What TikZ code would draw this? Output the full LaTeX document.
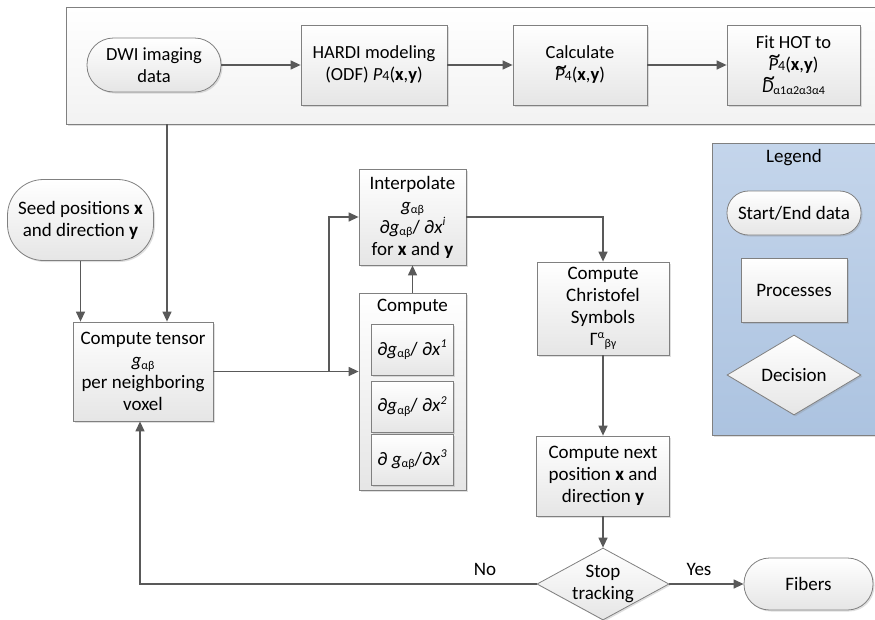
\documentclass[tikz,border=0pt]{standalone}
\usepackage{fontspec}
\setmainfont{Carlito}
\usetikzlibrary{shapes.geometric,arrows.meta,shadows}
\definecolor{ln}{RGB}{89,89,89}
\definecolor{bd}{RGB}{128,128,128}
\definecolor{legA}{RGB}{196,213,235}
\definecolor{legB}{RGB}{172,195,224}
\newcommand\lo[1]{\raisebox{-0.3ex}{\fontsize{12}{12}\selectfont #1}}
\newcommand\hi[1]{\raisebox{0.8ex}{\fontsize{12}{12}\selectfont #1}}
\newcommand\sm[1]{{\fontsize{14}{14}\selectfont #1}}
\newcommand\tld[1]{{\setbox0\hbox{#1}\ooalign{\box0\cr\hidewidth\kern0.14em\raisebox{0.36em}{\scalebox{1.3}[1.3]{\upshape\textasciitilde}}\hidewidth\cr}}}
\begin{document}
\begin{tikzpicture}[x=1pt,y=-1pt,
  shd/.style={drop shadow={shadow xshift=1.5pt,shadow yshift=-1.5pt,opacity=0.25}},
  base/.style={draw=bd, line width=0.8pt, top color=white, bottom color=black!10,
    align=center, font=\fontsize{19}{22}\selectfont, inner sep=1pt, shd},
  proc/.style={base, rectangle},
  toprow/.style={base, rectangle, font=\fontsize{18.5}{22}\selectfont},
  decshape/.style={base, diamond, inner sep=0pt},
  arr/.style={draw=ln, line width=1.3pt, -{Triangle[length=10pt,width=9pt]}},
  lbl/.style={font=\fontsize{19}{22}\selectfont, inner sep=1pt}]
\useasboundingbox (0,0) rectangle (875,619);

% containers
\node[draw=bd, line width=0.8pt, top color=white, bottom color=black!5, shd,
  anchor=north west, minimum width=840, minimum height=117, inner sep=0] (top) at (66,7) {};
\node[draw=bd, line width=0.8pt, top color=legA, bottom color=legB, shd,
  anchor=north west, minimum width=200, minimum height=292, inner sep=0] (leg) at (712,143) {};

% top row
\node[toprow, rounded corners=26.5, minimum width=134, minimum height=54] (dwi) at (154,65) {DWI imaging\\data};
\node[toprow, minimum width=146, minimum height=80] (hardi) at (374,65) {HARDI modeling\\(ODF) \textit{P}\sm{4}(\textbf{x},\textbf{y})};
\node[toprow, minimum width=134, minimum height=80] (calc) at (580,65) {Calculate\\\textit{\tld{P}}\sm{4}(\textbf{x},\textbf{y})};
\node[toprow, minimum width=133, minimum height=80] (fit) at (793.5,65) {Fit HOT to\\\textit{\tld{P}}\sm{4}(\textbf{x},\textbf{y})\\\textit{\tld{D}}\lo{α1α2α3α4}};

% main flow
\node[proc, rounded corners=36, minimum width=146, minimum height=81] (seed) at (80.5,220) {Seed positions \textbf{x}\\and direction \textbf{y}};
\node[proc, minimum width=140, minimum height=99] (tensor) at (143,371.5) {Compute tensor\\\textit{g}\lo{αβ}\\per neighboring\\voxel};
\node[proc, minimum width=107, minimum height=96] (interp) at (412.5,217) {Interpolate\\\textit{g}\lo{αβ}\\∂\textit{g}\lo{αβ}/ ∂\textit{x}\hi{\textit{i}}\\for \textbf{x} and \textbf{y}};
\node[proc, minimum width=107, minimum height=197] (compute) at (412.5,391.5) {};
\node[lbl] (comptxt) at (412.5,307) {Compute};
\node[proc, minimum width=82, minimum height=51] (d1) at (412,350) {∂\textit{g}\lo{αβ}/ ∂\textit{x}\hi{\textit{1}}};
\node[proc, minimum width=82, minimum height=51] (d2) at (412,406.5) {∂\textit{g}\lo{αβ}/ ∂\textit{x}\hi{\textit{2}}};
\node[proc, minimum width=82, minimum height=51] (d3) at (412,460) {∂ \textit{g}\lo{αβ}/∂\textit{x}\hi{\textit{3}}};
\node[proc, minimum width=132, minimum height=93] (chris) at (603,308.5) {Compute\\Christofel\\Symbols\\Γ\hi{α}\lo{βγ}};
\node[proc, minimum width=133, minimum height=80] (next) at (603,476) {Compute next\\position \textbf{x} and\\direction \textbf{y}};
\node[decshape, minimum width=132, minimum height=72,
  label={[lbl,align=center]center:Stop\\tracking}] (stop) at (603,584) {};
\node[proc, rounded corners=25.5, minimum width=129, minimum height=52] (fibers) at (808.5,584) {Fibers};

% legend
\node[lbl] (legt) at (794,158) {Legend};
\node[proc, rounded corners=21.5, minimum width=134, minimum height=44] (lstart) at (794,213) {Start/End data};
\node[proc, minimum width=106, minimum height=64] (lproc) at (794,290) {Processes};
\node[decshape, minimum width=134, minimum height=80,
  label={[lbl]center:Decision}] (ldec) at (794,375) {};

% connectors
\draw[arr] (dwi) -- (hardi);
\draw[arr] (hardi) -- (calc);
\draw[arr] (calc) -- (fit);
\coordinate (c1) at (167,124);
\draw[arr] (c1) -- (c1 |- tensor.north);
\draw[arr] (seed) -- (seed |- tensor.north);
\draw[arr] (tensor.east) -- (tensor.east -| compute.west);
\coordinate (br) at (329,371.5);
\draw[arr] (br) |- (interp.west);
\draw[arr] (compute) -- (interp);
\draw[arr] (interp.east) -| (chris.north);
\draw[arr] (chris) -- (next);
\draw[arr] (next) -- (stop);
\draw[arr] (stop) -- (fibers);
\draw[arr] (stop.west) -| ([xshift=-3pt]tensor.south);
\node[lbl] (yes) at (699,569) {Yes};
\node[lbl] (no) at (485,569) {No};
\end{tikzpicture}
\end{document}
